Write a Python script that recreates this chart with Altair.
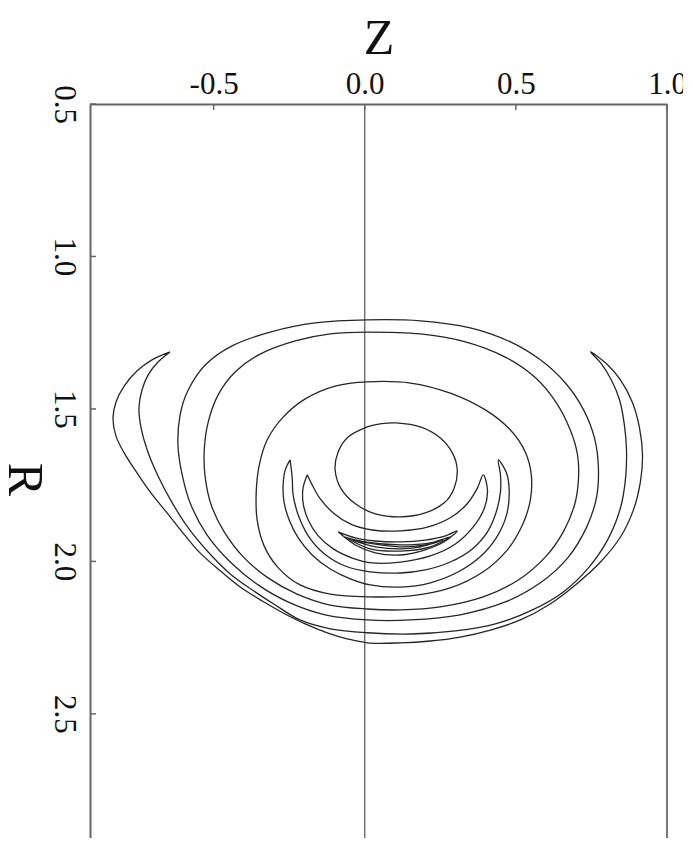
import altair as alt
import pandas as pd

# ---------------- values (Z, R) ----------------
TICK_Z = [-0.5, 0.0, 0.5, 1.0]
TICK_R = [0.5, 1.0, 1.5, 2.0, 2.5]
GUIDE_Z0 = [0.0]
GUIDE_Z1 = [1.0]

# outermost banana-shaped contour (outer edge, then inner edge back)
BAN_Z = [-0.644, -0.704, -0.753, -0.796, -0.823, -0.833, -0.823, -0.796, -0.760, -0.710,
         -0.654, -0.601, -0.545, -0.478, -0.412, -0.339, -0.270, -0.197, -0.124, -0.058,
         0.008, 0.118, 0.217, 0.316, 0.416, 0.515, 0.608, 0.697, 0.780, 0.846,
         0.889, 0.912, 0.919, 0.909, 0.886, 0.846, 0.800, 0.747,
         0.783, 0.816, 0.843, 0.859, 0.866, 0.863, 0.846, 0.803, 0.740, 0.657,
         0.555, 0.432, 0.300, 0.151, 0.008, -0.114, -0.214, -0.296, -0.373, -0.445,
         -0.518, -0.584, -0.637, -0.684, -0.720, -0.740, -0.747, -0.737, -0.717, -0.684, -0.644]
BAN_R = [1.313, 1.339, 1.375, 1.425, 1.477, 1.530, 1.589, 1.644, 1.700, 1.772,
         1.841, 1.907, 1.972, 2.031, 2.084, 2.130, 2.169, 2.205, 2.234, 2.254,
         2.267, 2.267, 2.261, 2.248, 2.225, 2.192, 2.143, 2.077, 2.002, 1.920,
         1.831, 1.739, 1.651, 1.562, 1.480, 1.405, 1.352, 1.313,
         1.352, 1.405, 1.470, 1.552, 1.634, 1.726, 1.825, 1.930, 2.021, 2.100,
         2.159, 2.205, 2.228, 2.238, 2.234, 2.221, 2.192, 2.143, 2.093, 2.041,
         1.969, 1.890, 1.808, 1.720, 1.634, 1.562, 1.497, 1.438, 1.389, 1.346, 1.313]

# closed ovals
O1_Z = [0.008, 0.184, 0.349, 0.482, 0.581, 0.664, 0.724, 0.760, 0.773, 0.767, 0.733,
        0.671, 0.581, 0.465, 0.316, 0.151, 0.008, -0.131, -0.247, -0.353, -0.445,
        -0.522, -0.575, -0.604, -0.618, -0.611, -0.584, -0.528, -0.439, -0.313, -0.164]
O1_R = [1.208, 1.211, 1.234, 1.280, 1.339, 1.415, 1.503, 1.595, 1.690, 1.789, 1.890,
        1.989, 2.070, 2.133, 2.175, 2.192, 2.192, 2.175, 2.136, 2.077, 2.002,
        1.913, 1.815, 1.716, 1.618, 1.520, 1.438, 1.356, 1.293, 1.248, 1.218]

O2_Z = [0.008, 0.184, 0.333, 0.465, 0.565, 0.634, 0.680, 0.704, 0.707, 0.694, 0.657,
        0.598, 0.508, 0.392, 0.250, 0.118, 0.008, -0.114, -0.224, -0.320, -0.402,
        -0.465, -0.508, -0.528, -0.531, -0.518, -0.485, -0.429, -0.346, -0.230, -0.114]
O2_R = [1.248, 1.254, 1.280, 1.330, 1.398, 1.480, 1.569, 1.651, 1.733, 1.815, 1.903,
        1.985, 2.061, 2.116, 2.149, 2.159, 2.156, 2.143, 2.107, 2.054, 1.985,
        1.903, 1.815, 1.723, 1.634, 1.543, 1.454, 1.379, 1.320, 1.277, 1.254]

O3_Z = [0.008, 0.151, 0.283, 0.399, 0.482, 0.531, 0.551, 0.548, 0.522, 0.472, 0.392,
        0.283, 0.151, 0.008, -0.114, -0.214, -0.286, -0.333, -0.356, -0.359, -0.349,
        -0.323, -0.273, -0.197, -0.098]
O3_R = [1.411, 1.415, 1.448, 1.503, 1.569, 1.641, 1.716, 1.798, 1.880, 1.962, 2.034,
        2.087, 2.113, 2.116, 2.107, 2.077, 2.021, 1.949, 1.864, 1.772, 1.684,
        1.602, 1.530, 1.467, 1.425]

CIRC_Z = [0.104, 0.184, 0.250, 0.290, 0.306, 0.296, 0.263, 0.200, 0.118, 0.035, -0.031,
          -0.078, -0.098, -0.088, -0.055, 0.008, 0.051]
CIRC_R = [1.546, 1.559, 1.595, 1.644, 1.700, 1.759, 1.808, 1.841, 1.854, 1.844, 1.811,
          1.762, 1.700, 1.641, 1.592, 1.559, 1.549]

# crescents
CA_Z = [-0.247, -0.263, -0.270, -0.267, -0.250, -0.220, -0.174, -0.114, -0.048, 0.018,
        0.118, 0.217, 0.310, 0.382, 0.435, 0.469, 0.478, 0.469, 0.442, 0.449,
        0.449, 0.435, 0.406, 0.356, 0.283, 0.200, 0.118, 0.018, -0.065, -0.137,
        -0.187, -0.220, -0.237, -0.240, -0.247]
CA_R = [1.667, 1.700, 1.749, 1.805, 1.864, 1.923, 1.979, 2.025, 2.057, 2.077,
        2.084, 2.070, 2.034, 1.985, 1.923, 1.848, 1.772, 1.710, 1.667, 1.716,
        1.772, 1.838, 1.903, 1.959, 2.002, 2.028, 2.038, 2.034, 2.015, 1.972,
        1.916, 1.848, 1.782, 1.726, 1.667]

CB_Z = [-0.190, -0.204, -0.204, -0.187, -0.154, -0.104, -0.041, 0.025, 0.118, 0.217,
        0.300, 0.359, 0.396, 0.406, 0.392, 0.373, 0.339, 0.283, 0.210, 0.118,
        0.025, -0.048, -0.104, -0.147, -0.174, -0.190]
CB_R = [1.716, 1.759, 1.808, 1.864, 1.916, 1.959, 1.989, 2.005, 2.002, 1.982,
        1.943, 1.887, 1.825, 1.766, 1.716, 1.759, 1.811, 1.857, 1.887, 1.900,
        1.897, 1.877, 1.841, 1.795, 1.749, 1.716]

# thin lenses near the bottom of the inner circle
L1_Z = [-0.088, -0.031, 0.035, 0.118, 0.200, 0.267, 0.306, 0.267, 0.200, 0.118, 0.035, -0.031, -0.088]
L1_R = [1.903, 1.923, 1.933, 1.936, 1.930, 1.916, 1.900, 1.933, 1.962, 1.979, 1.972, 1.946, 1.903]
L2_Z = [-0.065, 0.002, 0.118, 0.217, 0.283, 0.217, 0.118, 0.018, -0.065]
L2_R = [1.920, 1.936, 1.946, 1.939, 1.920, 1.952, 1.966, 1.959, 1.920]
L3_Z = [-0.041, 0.035, 0.118, 0.200, 0.260, 0.184, 0.118, 0.035, -0.041]
L3_R = [1.930, 1.943, 1.952, 1.946, 1.930, 1.952, 1.959, 1.952, 1.930]

CLOSED = {"oval1": (O1_Z, O1_R), "oval2": (O2_Z, O2_R), "oval3": (O3_Z, O3_R),
          "circle": (CIRC_Z, CIRC_R)}
OPEN = {"banana": (BAN_Z, BAN_R), "cresA": (CA_Z, CA_R), "cresB": (CB_Z, CB_R),
        "lens1": (L1_Z, L1_R), "lens2": (L2_Z, L2_R), "lens3": (L3_Z, L3_R)}


def frame(curves):
    rows = []
    for name, (zs, rs) in curves.items():
        for i, (z, r) in enumerate(zip(zs, rs)):
            rows.append({"curve": name, "i": i, "Z": z, "R": r})
    return pd.DataFrame(rows)


FONT = "Liberation Serif"
AX_COL = "#666666"
LINE_COL = "#262626"

x_enc = alt.X(
    "Z:Q",
    scale=alt.Scale(domain=[-0.909, 1.0], nice=False, zero=False),
    axis=alt.Axis(
        orient="top", title="Z", values=TICK_Z, grid=False,
        ticks=False, tickSize=0, domain=True, domainColor=AX_COL, domainWidth=2,
        labelFont=FONT, labelFontSize=31, labelColor="#111111",
        labelPadding=11, labelBaseline="alphabetic", labelFlush=False, labelOverlap=False,
        labelExpr="datum.value < 0 ? '-' + format(abs(datum.value), '.1f') : format(datum.value, '.1f')",
        titleFont=FONT, titleFontSize=50, titleFontWeight="normal", titleColor="#111111",
        titleY=-51, titleBaseline="alphabetic",
    ),
)
y_enc = alt.Y(
    "R:Q",
    scale=alt.Scale(domain=[0.5, 2.907], nice=False, zero=False, reverse=True),
    axis=alt.Axis(
        orient="left", title="R", values=TICK_R, grid=False,
        ticks=False, tickSize=0, domain=True, domainColor=AX_COL, domainWidth=2,
        labelFont=FONT, labelFontSize=31, labelColor="#111111",
        labelAngle=90, labelAlign="center", labelBaseline="top",
        labelPadding=12, labelFlush=False, labelOverlap=False, format=".1f",
        titleFont=FONT, titleFontSize=50, titleFontWeight="normal", titleColor="#111111",
        titleAngle=90, titleX=-82, titleY=375, titleAlign="center", titleBaseline="alphabetic",
    ),
)

closed_layer = alt.Chart(frame(CLOSED)).mark_line(
    interpolate="cardinal-closed", color=LINE_COL, strokeWidth=1.3
).encode(x=x_enc, y=y_enc, detail="curve:N", order="i:Q")

open_layer = alt.Chart(frame(OPEN)).mark_line(
    interpolate="catmull-rom", color=LINE_COL, strokeWidth=1.3
).encode(x=x_enc, y=y_enc, detail="curve:N", order="i:Q")

zero_line = alt.Chart(pd.DataFrame({"Z": GUIDE_Z0})).mark_rule(
    color="#555555", strokeWidth=1.2
).encode(x=x_enc)

right_line = alt.Chart(pd.DataFrame({"Z": GUIDE_Z1})).mark_rule(
    color="#777777", strokeWidth=2
).encode(x=x_enc)

top_ticks = alt.Chart(pd.DataFrame({"Z": TICK_Z})).mark_rule(
    color=AX_COL, strokeWidth=1.5
).encode(x=x_enc, y=alt.value(0), y2=alt.value(6))

left_ticks = alt.Chart(pd.DataFrame({"R": TICK_R})).mark_rule(
    color=AX_COL, strokeWidth=1.5
).encode(y=y_enc, x=alt.value(0), x2=alt.value(6))

chart = alt.layer(
    zero_line, right_line, top_ticks, left_ticks, closed_layer, open_layer
).properties(
    width=577,
    height=734,
    autosize=alt.AutoSizeParams(type="none"),
    padding={"left": 82, "top": 96, "right": 16, "bottom": 0},
    background="white",
).configure_view(stroke=None)

chart.save("out.html", embed_options={"renderer": "svg", "actions": False})
